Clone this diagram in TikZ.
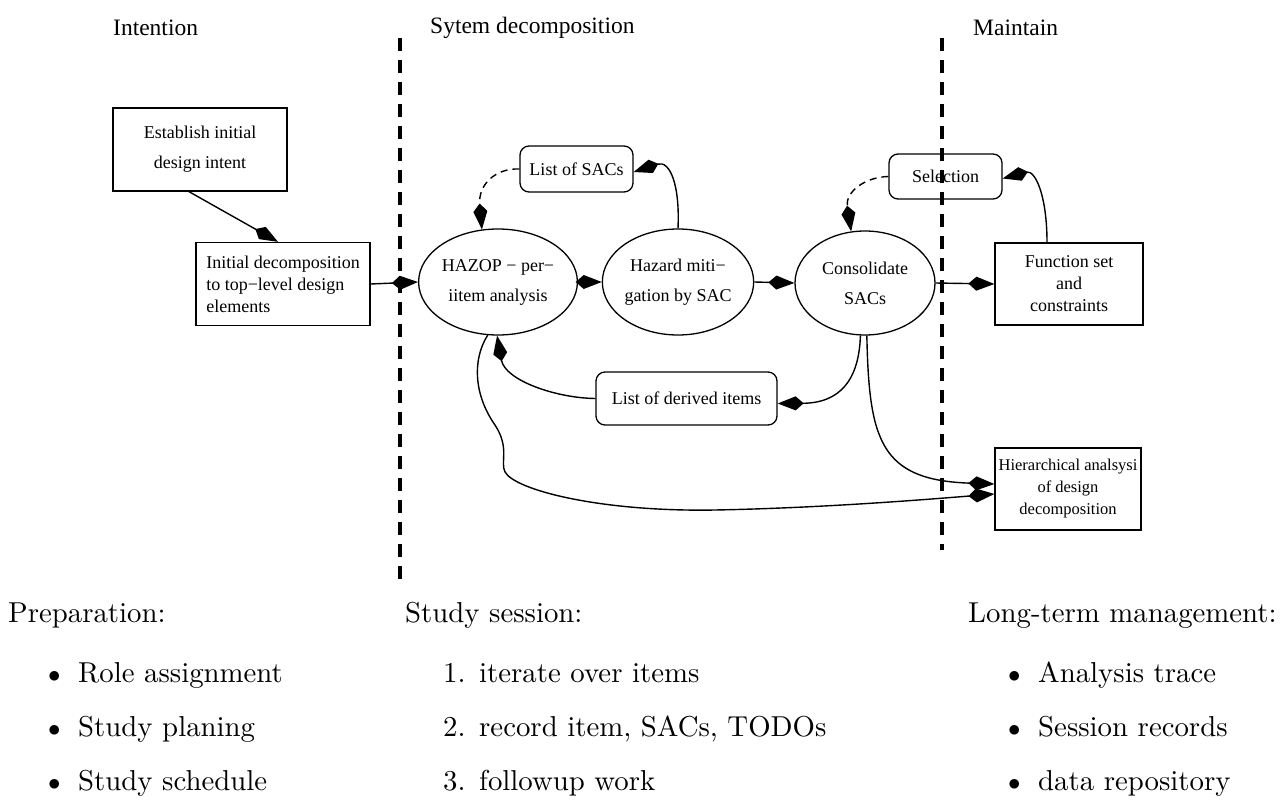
\documentclass[tikz,border=0pt]{standalone}
\usepackage{fontspec}
\newfontfamily\dfont{Liberation Serif}
\newfontfamily\lmten{lmroman10-regular.otf}
\usetikzlibrary{arrows.meta,shapes.geometric}
\begin{document}
\begin{tikzpicture}[x=1pt,y=-1pt,
  lbl/.style={font=\dfont\fontsize{18}{22}\selectfont, align=center, inner sep=0pt},
  sqbox/.style={lbl, draw, line width=1.3pt, rectangle},
  rndbox/.style={lbl, draw, line width=1.3pt, rectangle, rounded corners=9pt},
  ellbox/.style={lbl, draw, line width=1.3pt, ellipse},
  link/.style={line width=1.4pt, -{Kite[length=26pt,width=14pt,inset=8pt]}},
  dlink/.style={link, dash pattern=on 7pt off 5pt},
  sep/.style={line width=3.2pt, dash pattern=on 13pt off 9pt},
  head/.style={font=\dfont\fontsize{23.5}{28}\selectfont, anchor=west, inner sep=0pt},
  big/.style={font=\lmten\fontsize{28.8}{34}\selectfont, anchor=base west, inner sep=0pt}
]
\useasboundingbox (0,0) rectangle (1281,810);

% phase separators
\coordinate (s1a) at (400,38);  \coordinate (s1b) at (400,580);
\coordinate (s2a) at (942,38);  \coordinate (s2b) at (942,550);
\draw[sep] (s1a) -- (s1b);
\draw[sep] (s2a) -- (s2b);

% phase headings
\node[head] (hint) at (113,28) {Intention};
\node[head] (hsys) at (430,28) {Sytem decomposition};
\node[head] (hmnt) at (973,28) {Maintain};

% process elements
\node[sqbox, minimum width=174pt, minimum height=83pt] (est) at (200,149.5)
  {Establish initial\\[8pt]design intent};
\node[sqbox, minimum width=174pt, minimum height=83pt, align=left] (init) at (283,284)
  {Initial decomposition\\to top−level design\\elements};
\node[ellbox, minimum width=136pt, minimum height=106pt] (hazop) at (498,282)
  {HAZOP − per−\\[8pt]iitem analysis};
\node[ellbox, minimum width=136pt, minimum height=106pt] (miti) at (678,282)
  {Hazard miti−\\[8pt]gation by SAC};
\node[ellbox, minimum width=140pt, minimum height=104pt] (cons) at (865,283)
  {Consolidate\\[8pt]SACs};
\node[rndbox, minimum width=113pt, minimum height=46pt] (sacs) at (576.5,169) {List of SACs};
\node[rndbox, minimum width=113pt, minimum height=45pt] (sel) at (945.5,176.5) {Selection};
\node[sqbox, minimum width=148pt, minimum height=82pt] (func) at (1069,284)
  {Function set\\and\\constraints};
\node[rndbox, minimum width=181pt, minimum height=53pt] (derived) at (686.5,398.5)
  {List of derived items};
\node[sqbox, minimum width=146pt, minimum height=82pt,
  font=\dfont\fontsize{16.5}{22}\selectfont] (hier) at (1068,489)
  {Hierarchical analsysi\\of design\\decomposition};

% flow
\draw[link] ([xshift=-11pt]est.south) -- ([xshift=-5pt]init.north);
\draw[link] (init.east) -- (hazop.west);
\draw[link] (hazop.east) -- (miti.west);
\draw[link] (miti.east) -- (cons.west);
\draw[link] (cons.east) -- (func.west);
\draw[link] (miti.north) .. controls (680,185) and (670,160) .. ([yshift=-3pt]sacs.east);
\draw[dlink] (sacs.west) .. controls (495,168) and (478,185) .. (hazop.107);
\draw[link] ([xshift=-22pt]func.north) .. controls (1047,195) and (1035,170) .. ([yshift=-2pt]sel.east);
\draw[dlink] (sel.west) .. controls (865,177) and (845,192) .. (cons.105);
\draw[link] (cons.-95) .. controls (859,380) and (840,403) .. ([yshift=-5pt]derived.east);
\draw[link] (derived.west) .. controls (555,398) and (505,380) .. (hazop.-91);
\draw[link] (cons.-88) .. controls (869,440) and (880,480) .. ([yshift=5pt]hier.west);
\draw[link] (hazop.-101) .. controls (472,360) and (474,395) .. (495,425)
  .. controls (510,448) and (500,462) .. (505,472)
  .. controls (515,490) and (600,512) .. (715,510)
  .. controls (820,508) and (920,500) .. ([yshift=-5pt]hier.west);

% notes under the phases
\node[big] (prep) at (8,622) {Preparation:};
\node[big] (pb1) at (48,682) {$\bullet$};  \node[big] (pt1) at (78,682) {Role assignment};
\node[big] (pb2) at (48,736) {$\bullet$};  \node[big] (pt2) at (78,736) {Study planing};
\node[big] (pb3) at (48,790) {$\bullet$};  \node[big] (pt3) at (78,790) {Study schedule};

\node[big] (sess) at (405,622) {Study session:};
\node[big] (sn1) at (443,682) {1.};  \node[big] (st1) at (479,682) {iterate over items};
\node[big] (sn2) at (443,736) {2.};  \node[big] (st2) at (479,736) {record item, SACs, TODOs};
\node[big] (sn3) at (443,790) {3.};  \node[big] (st3) at (479,790) {followup work};

\node[big] (ltm) at (968,622) {Long-term management:};
\node[big] (lb1) at (1008,682) {$\bullet$};  \node[big] (lt1) at (1038,682) {Analysis trace};
\node[big] (lb2) at (1008,736) {$\bullet$};  \node[big] (lt2) at (1038,736) {Session records};
\node[big] (lb3) at (1008,790) {$\bullet$};  \node[big] (lt3) at (1038,790) {data repository};
\end{tikzpicture}
\end{document}
